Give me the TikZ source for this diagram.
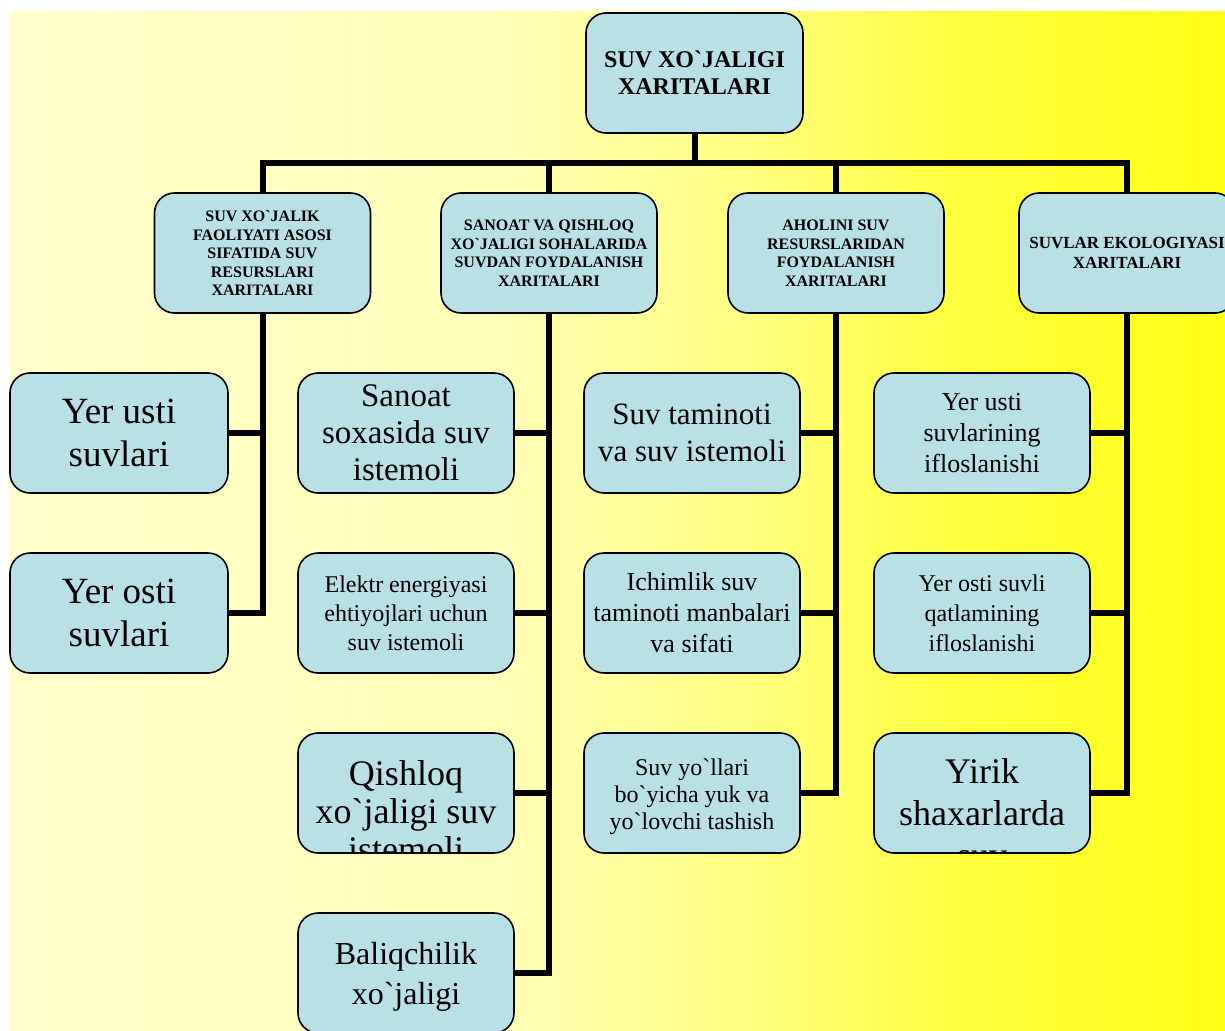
\documentclass[tikz,border=0pt]{standalone}
\usepackage{fontspec}
\setmainfont{Liberation Serif}[Ligatures=TeXOff]
\definecolor{boxfill}{RGB}{185,224,228}
\definecolor{bgA}{RGB}{255,255,204}
\definecolor{bgB}{RGB}{255,255,184}
\definecolor{bgC}{RGB}{255,255,128}
\definecolor{bgD}{RGB}{255,255,64}
\definecolor{bgE}{RGB}{255,255,22}
\begin{document}
\begin{tikzpicture}[x=1pt,y=-1pt,
  box/.style={draw=black, line width=1.6pt, fill=boxfill, rounded corners=20pt,
    minimum width=216pt, minimum height=120pt, align=center, inner xsep=2pt, inner ysep=2pt},
  hdr/.style={box, font=\bfseries\fontsize{16}{18.5}\selectfont},
  conn/.style={line width=6pt, draw=black},
  fs/.style n args={2}{font=\fontsize{#1}{#2}\selectfont},
  shifttext/.style n args={4}{path picture={\node[align=center, font=\fontsize{#1}{#2}\selectfont]
      at ([yshift=#3]path picture bounding box.center) {#4};}}
]
\useasboundingbox (0,0) rectangle (1225,1030);
\clip (0,0) rectangle (1225,1030);
\fill[white] (0,0) rectangle (1225,1030);
\shade[left color=bgA, right color=bgB] (10,12) rectangle (500.5,1030);
\shade[left color=bgB, right color=bgC] (500,12) rectangle (750.5,1030);
\shade[left color=bgC, right color=bgD] (750,12) rectangle (950.5,1030);
\shade[left color=bgD, right color=bgE] (950,12) rectangle (1225,1030);

% top
\node[box, minimum width=217pt, font=\bfseries\fontsize{24}{27}\selectfont] (top) at (694.5,73) {SUV XO`JALIGI\\XARITALARI};

% level 2
\node[hdr] (c1) at (262.5,253) {SUV XO`JALIK\\FAOLIYATI ASOSI\\SIFATIDA SUV\\RESURSLARI\\XARITALARI};
\node[hdr] (c2) at (549,253) {SANOAT VA QISHLOQ\\XO`JALIGI SOHALARIDA\\SUVDAN FOYDALANISH\\XARITALARI};
\node[hdr] (c3) at (836,253) {AHOLINI SUV\\RESURSLARIDAN\\FOYDALANISH\\XARITALARI};
\node[box, font=\bfseries\fontsize{17}{20}\selectfont] (c4) at (1127,253) {SUVLAR EKOLOGIYASI\\XARITALARI};

% level 3, column 1
\node[box, minimum width=218pt, fs={37}{43}] (a1) at (119,433) {Yer usti\\suvlari};
\node[box, minimum width=218pt, fs={37}{43}] (a2) at (119,613) {Yer osti\\suvlari};

% column 2
\node[box, fs={33}{37}] (b1) at (406,433) {Sanoat\\soxasida suv\\istemoli};
\node[box, fs={24}{29}] (b2) at (406,613) {Elektr energiyasi\\ehtiyojlari uchun\\suv istemoli};
\node[box, shifttext={36}{38}{-18pt}{Qishloq\\xo`jaligi suv\\istemoli}] (b3) at (406,793) {};
\node[box, shifttext={32}{40}{-4pt}{Baliqchilik\\xo`jaligi}] (b4) at (406,973) {};

% column 3
\node[box, fs={31}{37}] (d1) at (692,433) {Suv taminoti\\va suv istemoli};
\node[box, fs={26}{31}] (d2) at (692,613) {Ichimlik suv\\taminoti manbalari\\va sifati};
\node[box, shifttext={24}{27}{-4pt}{Suv yo`llari\\bo`yicha yuk va\\yo`lovchi tashish}] (d3) at (692,793) {};

% column 4
\node[box, fs={26}{31}] (e1) at (982,433) {Yer usti\\suvlarining\\ifloslanishi};
\node[box, fs={24}{30}] (e2) at (982,613) {Yer osti suvli\\qatlamining\\ifloslanishi};
\node[box, shifttext={36}{42}{-20pt}{Yirik\\shaxarlarda\\suv}] (e3) at (982,793) {};

% connectors
\coordinate (bar) at (694.5,163);
\draw[conn] (top.south) -- (bar);
\draw[conn] (c1.north) |- (bar) -| (c4.north);
\draw[conn] (bar -| c2.north) -- (c2.north);
\draw[conn] (bar -| c3.north) -- (c3.north);

\draw[conn] (c1.south) |- (a2.east);
\draw[conn] (a1.east) -- (a1.east -| c1.south);

\draw[conn] (c2.south) |- (b4.east);
\draw[conn] (b1.east) -- (b1.east -| c2.south);
\draw[conn] (b2.east) -- (b2.east -| c2.south);
\draw[conn] (b3.east) -- (b3.east -| c2.south);

\draw[conn] (c3.south) |- (d3.east);
\draw[conn] (d1.east) -- (d1.east -| c3.south);
\draw[conn] (d2.east) -- (d2.east -| c3.south);

\draw[conn] (c4.south) |- (e3.east);
\draw[conn] (e1.east) -- (e1.east -| c4.south);
\draw[conn] (e2.east) -- (e2.east -| c4.south);
\end{tikzpicture}
\end{document}
